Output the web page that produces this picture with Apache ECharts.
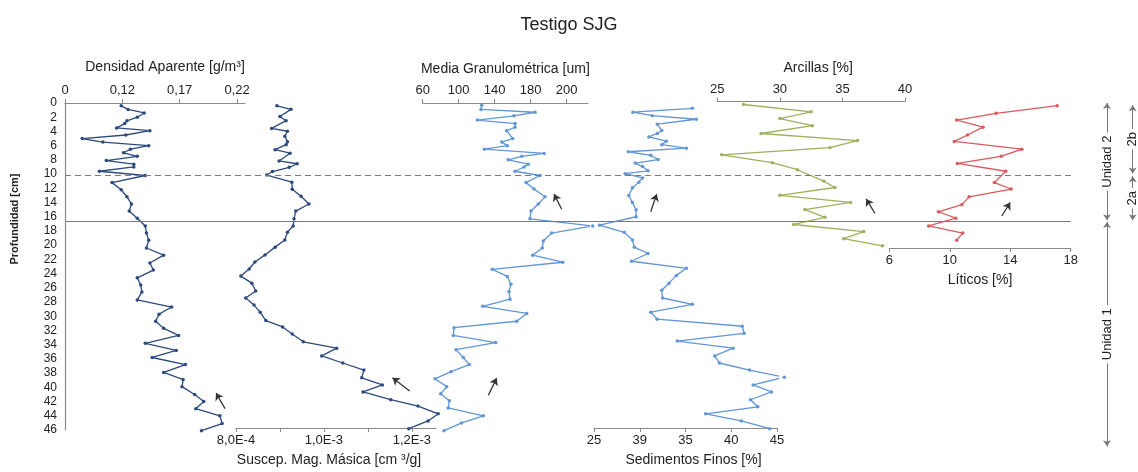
<!DOCTYPE html>
<html><head><meta charset="utf-8">
<script src="https://cdn.jsdelivr.net/npm/echarts@6/dist/echarts.min.js"></script>
<style>html,body{margin:0;padding:0;background:#fff}#c{width:1138px;height:472px}</style>
</head><body><div id="c"></div>
<script>
// ---------- DATA ----------
// Densidad Aparente [g/m3]
const densDepth = [0.4,0.9,1.4,2.0,2.5,2.9,3.5,3.9,4.5,5.0,5.5,6.0,6.5,7.0,7.5,8.1,8.6,9.0,9.6,10.2,11.2,12.2,13.2,14.2,15.2,16.2,17.3,18.3,19.3,20.4,21.4,22.5,23.5,24.6,25.6,26.6,27.7,28.7,29.7,30.7,31.7,32.7,33.8,34.8,35.8,36.8,37.9,38.9,39.9,41.0,42.0,43.0,44.0,45.1,46.1];
const densVal   = [0.119,0.125,0.139,0.133,0.124,0.122,0.115,0.144,0.123,0.085,0.103,0.143,0.127,0.121,0.133,0.106,0.130,0.130,0.100,0.140,0.111,0.119,0.124,0.128,0.126,0.133,0.140,0.141,0.143,0.141,0.156,0.144,0.147,0.133,0.136,0.137,0.133,0.163,0.152,0.149,0.156,0.169,0.140,0.167,0.146,0.175,0.156,0.173,0.172,0.183,0.191,0.184,0.205,0.207,0.189];
// Suscep. Mag. Masica
const susDepth = [0.4,0.9,1.9,2.5,3.6,4.0,4.7,5.5,5.9,6.6,7.1,8.2,8.6,9.1,9.7,10.2,11.2,12.2,13.2,14.3,15.3,16.4,17.4,18.3,19.4,20.4,21.5,22.5,23.5,24.5,25.5,26.6,27.6,28.6,29.6,30.8,31.7,32.7,33.8,34.7,35.8,36.8,37.8,38.9,39.9,40.9,42.0,42.9,44.0,45.0,46.1];
const susVal   = [8.93e-4,9.25e-4,9.00e-4,9.14e-4,8.81e-4,9.17e-4,9.11e-4,9.17e-4,9.14e-4,8.89e-4,9.23e-4,8.98e-4,9.39e-4,9.21e-4,8.83e-4,8.70e-4,9.27e-4,9.28e-4,9.48e-4,9.66e-4,9.36e-4,9.32e-4,9.30e-4,9.17e-4,9.11e-4,8.89e-4,8.66e-4,8.43e-4,8.30e-4,8.11e-4,8.36e-4,8.45e-4,8.22e-4,8.41e-4,8.55e-4,8.68e-4,9.06e-4,9.28e-4,9.53e-4,10.29e-4,9.95e-4,10.43e-4,10.91e-4,10.86e-4,11.33e-4,10.89e-4,11.52e-4,12.14e-4,12.60e-4,12.37e-4,11.93e-4];
// Media Granulometrica [um]
const medDepth = [0.3,0.9,1.3,1.8,2.4,2.9,3.4,3.9,5.0,5.5,6.0,6.5,7.1,7.5,8.0,8.6,9.0,9.6,10.2,11.2,12.1,13.2,14.2,15.2,16.3,17.3,18.3,19.4,20.4,21.4,22.4,23.4,24.4,25.5,26.5,27.6,28.6,29.6,30.7,31.6,32.7,33.7,34.7,35.8,36.8,37.8,38.8,39.9,40.9,41.9,42.9,44.0,45.0,46.1];
const medVal   = [125.6,124.8,184.8,161.4,120.7,162.6,162.6,153.3,160,147.8,154,128.5,195,170,155,177.3,172.6,162.6,190.3,174.8,183.7,195.9,188.4,180.3,179.2,248.9,203.3,194,192.9,182.2,215.6,137.3,154,158,155.9,157,126.7,175.6,164.4,94.8,94,141.1,97,105.1,111.8,91.4,73.7,86.7,80,89.6,88.4,127.4,103.3,83.7];
// Sedimentos Finos [%]
const finDepth = [0.75,1.3,1.8,2.3,3.0,3.9,4.3,4.8,5.4,5.9,6.4,6.9,7.4,8.0,8.5,9.0,9.6,10.0,10.6,11.2,12.0,13.1,14.1,15.1,16.1,17.3,18.3,19.4,20.4,21.3,22.4,23.4,24.4,25.5,26.5,27.6,28.5,29.6,30.6,31.6,32.6,33.7,34.7,35.8,36.8,37.8,38.8,39.9,40.9,42.0,43.0,44.0,45.0,46.1];
const finVal   = [35.75,29.26,31.37,36.18,31.92,32.4,31.92,31.0,32.9,32.4,35.1,28.75,31.2,32.0,29.5,30.3,30.9,28.4,30.3,29.9,29.2,28.8,29.2,29.6,29.6,25.6,28.3,29.2,29.4,30.9,29.1,35.1,34.0,33.2,32.4,32.5,35.75,31.2,31.9,41.2,41.4,34.1,40.2,38.2,38.7,42.0,45.8,42.4,44.4,42.1,42.9,37.2,41.1,44.2];
// Arcillas [%]
const arcDepth = [0.42,1.45,2.4,3.4,4.5,5.5,6.5,7.5,8.6,9.6,11.2,12.1,13.2,14.2,15.2,16.3,17.3,18.3,19.3,20.3];
const arcVal   = [27.1,32.5,30.0,32.6,28.5,36.2,34.0,25.35,29.4,31.4,33.5,34.4,30.0,35.65,32.0,33.6,31.1,36.7,35.1,38.2];
// Liticos [%]
const litDepth = [0.38,1.45,2.4,3.4,4.5,5.4,6.5,7.5,8.5,9.6,11.2,12.1,13.2,14.3,15.3,16.2,17.3,18.3,19.3];
const litVal   = [17.1,13.07,10.46,12.2,11.17,10.3,14.77,13.4,10.5,13.7,12.95,14.06,11.28,10.8,9.25,10.4,8.6,10.86,10.46];

// tick values and their printed labels (as printed in the original figure)
const depthTicks = [0,2,4,6,8,10,12,14,16,18,20,22,24,26,28,30,32,34,36,38,40,42,44,46];
const densTicks = [0.07,0.12,0.17,0.22];      const densLabels = ['0','0,12','0,17','0,22'];
const susTicks  = [8e-4,9e-4,1e-3,1.1e-3,1.2e-3]; const susLabels = ['8,0E-4','','1,0E-3','','1,2E-3'];
const medTicks  = [60,100,140,180,220];       const medLabels = ['60','100','140','180','200'];
const finTicks  = [25,30,35,40,45];           const finLabels = ['25','39','35','40','45'];
const arcTicks  = [25,30,35,40];              const arcLabels = ['25','30','35','40'];
const litTicks  = [6,10,14,18];               const litLabels = ['6','10','14','18'];

// stratigraphic boundaries [cm]
const boundaryDashed = 10.1;
const boundarySolid = 16.6;
const unitNames = ['Unidad 2','Unidad 1'];
const unitTop = [0, 16.75];
const unitBottom = [16.5, 48.3];
const subNames = ['2b','2a'];
const subTop = [0.3, 10.3];
const subBottom = [9.9, 16.5];

// trend arrows [tail, head] in each panel's units
const densArrow = [[0.2095,43.0],[0.2017,40.8]];
const susArrow  = [[11.95e-4,40.75],[11.56e-4,38.9]];
const medArrows = [[[132.9,41.1],[142.2,38.7]], [[214.4,14.95],[205.9,12.8]]];
const finArrows = [[[31.2,15.4],[31.85,12.9]], [[46.0,37.0],[45.0,35.0]]];
const arcArrow  = [[37.6,15.75],[36.9,13.7]];
const litArrow  = [[13.44,15.9],[14.0,14.0]];

// ---------- LAYOUT ----------
const TOP = 103, H = 327, DEPTH_MAX = 46;
const pxPerCm = H / DEPTH_MAX;
const LIT_H = 145, ANNO_H = 350;
const FONT = 'Liberation Sans, Arial, sans-serif';
const TXT = '#222';

function pairs(vals, depths){ return vals.map((v,i)=>[v, depths[i]]); }
function fmt(ticks, labels){ return v => { for (let i=0;i<ticks.length;i++){ if (Math.abs(v-ticks[i]) < Math.abs(ticks[i])*1e-6 + 1e-12) return labels[i]; } return ''; }; }
function arrow(a){ return [{coord:a[0], symbol:'none'}, {coord:a[1], symbol:'arrow'}]; }
const arrowML = (list) => ({silent:true, symbolSize:7, label:{show:false}, lineStyle:{color:'#333', width:1.3, type:'solid'}, emphasis:{disabled:true}, data:list.map(arrow)});

const grids = [
  {left:65, top:TOP, width:1005.7, height:H},          // 0 background refs
  {left:65, top:TOP, width:180, height:H},             // 1 densidad
  {left:236, top:TOP, width:200, height:H},            // 2 suscep
  {left:422.7, top:TOP, width:165.3, height:H},        // 3 media
  {left:594, top:TOP, width:183, height:H},            // 4 finos
  {left:717.3, top:TOP - 1.5, width:187.7, height:H},  // 5 arcillas
  {left:889.3, top:TOP, width:181.4, height:LIT_H},    // 6 liticos
  {left:1085, top:TOP, width:53, height:ANNO_H}        // 7 annotation
];

function panelX(gi, pos, min, max, ticks, labels, name, nameGap, pad){
  return {
    gridIndex: gi, type:'value', position: pos, min, max,
    axisLine:{show:true, onZero:false, lineStyle:{color:'#8a8a8a', width:1.2}},
    axisTick:{show:true, length:4, customValues: ticks, lineStyle:{color:'#8a8a8a'}},
    axisLabel:{customValues: ticks, formatter: fmt(ticks, labels), fontSize:13, color:TXT, margin:6, fontFamily:FONT},
    splitLine:{show:false},
    name, nameLocation:'middle', nameGap, nameTextStyle:{fontSize:14, color:TXT, fontFamily:FONT, padding: pad || 0}
  };
}
function hiddenY(gi, max){ return {gridIndex:gi, type:'value', min:0, max, inverse:true, show:false}; }

const xAxes = [
  {gridIndex:0, type:'value', min:0, max:1, show:false},
  panelX(1,'top',0.07,0.07+180/1147, densTicks, densLabels, 'Densidad Aparente [g/m³]', 29, [0,0,0,20]),
  panelX(2,'bottom',8e-4,12.55e-4, susTicks, susLabels, 'Suscep. Mag. Másica [cm ³/g]', 25, [0,14,0,0]),
  panelX(3,'top',60,60+165.3/0.9, medTicks, medLabels, 'Media Granulométrica [um]', 27),
  panelX(4,'bottom',25,45, finTicks, finLabels, 'Sedimentos Finos [%]', 25, [0,0,0,16]),
  panelX(5,'top',25,40, arcTicks, arcLabels, 'Arcillas [%]', 26, [0,0,0,14]),
  panelX(6,'bottom',6,18, litTicks, litLabels, 'Líticos [%]', 25),
  {gridIndex:7, type:'value', min:0, max:1, show:false}
];

const yAxes = [
  hiddenY(0, DEPTH_MAX),
  {gridIndex:1, type:'value', min:0, max:DEPTH_MAX, inverse:true, position:'left',
   axisLine:{show:true, onZero:false, lineStyle:{color:'#8a8a8a', width:1.2}}, axisTick:{show:false},
   axisLabel:{customValues: depthTicks, fontSize:12, color:TXT, margin:8, fontFamily:FONT},
   splitLine:{show:false}},
  hiddenY(2, DEPTH_MAX), hiddenY(3, DEPTH_MAX), hiddenY(4, DEPTH_MAX), hiddenY(5, DEPTH_MAX),
  hiddenY(6, LIT_H / pxPerCm),
  hiddenY(7, ANNO_H / pxPerCm)
];

function lineSeries(i, vals, depths, color, arrows){
  return {type:'line', xAxisIndex:i, yAxisIndex:i, data: pairs(vals, depths), clip:false, silent:true,
    symbol:'circle', symbolSize:3.5, showSymbol:true,
    itemStyle:{color}, lineStyle:{color, width:1.3},
    markLine: arrowML(arrows)};
}

const annoLabel = {show:true, position:'middle', formatter:'{b}', backgroundColor:'#fff', padding:[1,3], distance:0, verticalAlign:'middle', color:TXT, fontSize:13, fontFamily:FONT};
const annoData = [];
// drawn bottom -> top so the labels read upwards
unitNames.forEach((n,i)=>annoData.push([{name:n, coord:[0.415, unitBottom[i]], symbol:'arrow'},{coord:[0.415, unitTop[i]], symbol:'arrow'}]));
subNames.forEach((n,i)=>annoData.push([{name:n, coord:[0.9, subBottom[i]], symbol:'arrow'},{coord:[0.9, subTop[i]], symbol:'arrow'}]));

const series = [
  {type:'line', xAxisIndex:0, yAxisIndex:0, data:[], silent:true,
   markLine:{silent:true, symbol:['none','none'], label:{show:false},
     data:[{yAxis:boundaryDashed, lineStyle:{type:[6,4], color:'#7a7a7a', width:1.1}},
           {yAxis:boundarySolid, lineStyle:{type:'solid', color:'#7a7a7a', width:1.1}}]}},
  lineSeries(1, densVal, densDepth, '#2d4a7c', [densArrow]),
  lineSeries(2, susVal, susDepth, '#2d4a7c', [susArrow]),
  lineSeries(3, medVal, medDepth, '#6296d6', medArrows),
  lineSeries(4, finVal, finDepth, '#6296d6', finArrows),
  lineSeries(5, arcVal, arcDepth, '#9cb25c', [arcArrow]),
  lineSeries(6, litVal, litDepth, '#d95a5e', [litArrow]),
  {type:'line', xAxisIndex:7, yAxisIndex:7, data:[], silent:true, clip:false,
   markLine:{silent:true, symbolSize:6, label:annoLabel, lineStyle:{color:'#777', width:1, type:'solid'}, data:annoData}}
];

const chart = echarts.init(document.getElementById('c'), null, {renderer:'canvas'});
chart.setOption({
  animation:false,
  backgroundColor:'#fff',
  textStyle:{fontFamily:FONT},
  title:{text:'Testigo SJG', left:'center', top:11, textStyle:{fontSize:18, fontWeight:'normal', color:TXT, fontFamily:FONT}},
  graphic:[{type:'text', x:15, y:219, rotation:Math.PI/2,
    style:{text:'Profundidad [cm]', font:'bold 11px Liberation Sans, Arial, sans-serif', fill:TXT, align:'center', verticalAlign:'middle'}}],
  grid: grids, xAxis: xAxes, yAxis: yAxes, series
});
</script></body></html>
